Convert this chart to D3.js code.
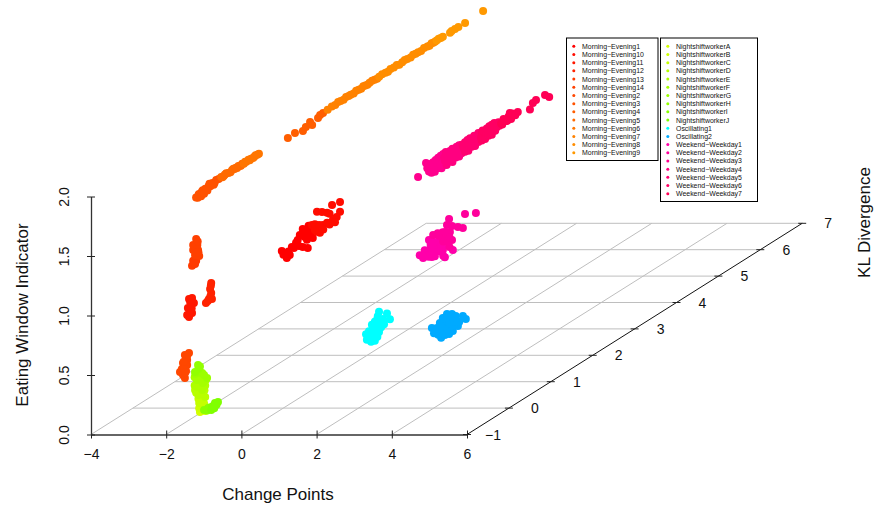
<!DOCTYPE html>
<html>
<head>
<meta charset="utf-8">
<script src="https://cdn.jsdelivr.net/npm/d3@7"></script>
<style>
body { margin: 0; background: #fff; }
svg { display: block; }
text { font-family: "Liberation Sans", Arial, sans-serif; fill: #111; }
</style>
</head>
<body>
<svg id="chart" width="874" height="508"></svg>
<script>
// every point is [change points, kl divergence, eating window indicator]
const me1 = [[-1.5,1.31,1.029],[-1.5,1.43,.944],[-1.5,1.5,.954],[-1.5,1.55,1.01],[-1.5,1.81,.952],[-1.5,1.93,.918],[-1.5,1.69,1.037],[-1.5,1.91,.99],[-1.5,2.05,.975],[-1.5,1.81,1.103],[-1.5,1.65,1.023],[-1.5,1.74,1.069],[-1.5,1.98,1.041],[-1.5,1.6,.99],[-1.5,1.72,.98],[-1.5,1.85,1.03],[-1.5,1.9,1.06],[-1.5,2,1.01],[-1.5,1.95,1.1],[-1.5,1.35,.99],[-1.5,1.47,.99]];
const me10 = [[-1.5,2.03,1.089],[-1.5,2.22,.98],[-1.5,2.29,1.031],[-1.5,2.53,1.02],[-1.5,2.39,1.027],[-1.5,2.7,1.05],[-1.5,2.62,1.024],[-1.5,2.51,1.15],[-1.5,2.7,1.133],[-1.5,2.15,1.172],[-1.5,2.27,1.145],[-1.5,2.39,1.111],[-1.5,2.15,1.004],[-1.5,2.1,1.03],[-1.5,2.1,1.08],[-1.5,2.2,1.05],[-1.5,2.3,.99],[-1.5,2.45,1],[-1.5,2.58,.99],[-1.5,2.45,1.09]];
const me11 = [[-1.87,-.5,1.036],[-1.95,-.5,1.028],[-1.92,-.5,1.003],[-1.82,-.5,.994],[-1.98,-.5,.952],[-1.9,-.5,.969],[-1.9,-.5,.927],[-2,-.5,.893],[-1.95,-.5,.877],[-1.87,-.5,.91],[-1.9,-.5,.99],[-1.93,-.5,.93],[-1.88,-.5,.95],[-1.93,-.5,.9],[-1.88,-.5,1.02]];
const me12 = [[-1.36,-.5,1.162],[-1.39,-.5,1.112],[-1.36,-.5,1.078],[-1.34,-.5,1.028],[-1.42,-.5,1.028],[-1.5,-.5,.994],[-1.37,-.5,1.14],[-1.38,-.5,1.05],[-1.45,-.5,1.01]];
const me13 = [[-1.84,-.5,1.349],[-1.76,-.5,1.349],[-1.87,-.5,1.307],[-1.79,-.5,1.321],[-1.78,-.5,1.36],[-1.8,-.5,1.33]];
const me14 = [[-1.76,-.5,1.532],[-1.73,-.5,1.482],[-1.84,-.5,1.44],[-1.71,-.5,1.44],[-1.84,-.5,1.482],[-1.79,-.5,1.398],[-1.68,-.5,1.389],[-1.78,-.5,1.46],[-1.75,-.5,1.42],[-1.72,-.5,1.51],[-1.7,-.5,1.42]];
const me2 = [[-1.95,-.5,.574],[-2.06,-.5,.557],[-2,-.5,.515],[-2.11,-.5,.49],[-2,-.5,.473],[-2.14,-.5,.44],[-2.19,-.5,.415],[-2.03,-.5,.423],[-2.11,-.5,.389],[-2.06,-.5,.364],[-2.03,-.5,.54],[-2.05,-.5,.47],[-2.08,-.5,.44],[-2.05,-.5,.41],[-2,-.5,.55],[-2.09,-.5,.5]];
const me3 = [[-1.74,-.52,1.885],[-1.74,-.48,1.875],[-1.74,-.45,1.9],[-1.74,-.42,1.885],[-1.74,-.38,1.905],[-1.74,-.35,1.89],[-1.74,-.3,1.91],[-1.74,-.27,1.9],[-1.74,-.22,1.915],[-1.74,-.18,1.905],[-1.74,-.13,1.92],[-1.74,-.08,1.91],[-1.74,-.04,1.925],[-1.74,.02,1.92],[-1.74,-.46,1.895],[-1.74,-.4,1.87],[-1.74,-.36,1.91],[-1.74,-.33,1.875],[-1.74,-.25,1.885],[-1.74,-.2,1.93],[-1.74,-.1,1.9]];
const me4 = [[-1.74,1.67,1.9],[-1.74,1.84,1.904],[-1.74,2.03,1.878],[-1.74,2.1,1.897],[-1.74,2.2,1.916],[-1.74,2.25,1.88],[-1.74,2.39,1.908],[-1.74,2.44,1.922],[-1.74,2.51,1.923]];
const me5 = [[-1.74,.08,1.925],[-1.74,.14,1.92],[-1.74,.2,1.93],[-1.74,.3,1.915],[-1.74,.34,1.925],[-1.74,.4,1.92],[-1.74,.46,1.915],[-1.74,.52,1.92],[-1.74,.58,1.925],[-1.74,.11,1.915],[-1.74,.17,1.925],[-1.74,.25,1.92],[-1.74,.37,1.93],[-1.74,.43,1.925],[-1.74,.49,1.925],[-1.74,.55,1.915]];
const me6 = [[-1.74,.62,1.915],[-1.74,.68,1.92],[-1.74,.73,1.925],[-1.74,.79,1.92],[-1.74,.84,1.915],[-1.74,.9,1.925],[-1.74,.98,1.92],[-1.74,.65,1.925],[-1.74,.76,1.915],[-1.74,.87,1.92],[-1.74,.94,1.92]];
const me7 = [[-1.74,2.62,1.925],[-1.74,2.72,1.93],[-1.74,2.8,1.925],[-1.74,2.87,1.935],[-1.74,2.93,1.93],[-1.74,3,1.925],[-1.74,3.06,1.935],[-1.74,3.12,1.93],[-1.74,3.17,1.93],[-1.74,3.24,1.925],[-1.74,3.3,1.935],[-1.74,3.36,1.93],[-1.74,3.42,1.925],[-1.74,3.47,1.935],[-1.74,3.52,1.93],[-1.74,3.57,1.925],[-1.74,3.62,1.93],[-1.74,3.68,1.935],[-1.74,3.74,1.93],[-1.74,3.8,1.925]];
const me8 = [[-1.74,3.85,1.93],[-1.74,3.92,1.935],[-1.74,4,1.93],[-1.74,4.06,1.925],[-1.74,4.12,1.935],[-1.74,4.2,1.93],[-1.74,4.27,1.935],[-1.74,4.33,1.925],[-1.74,4.4,1.93],[-1.74,4.46,1.935],[-1.74,4.52,1.93],[-1.74,4.6,1.925],[-1.74,4.66,1.935],[-1.74,4.72,1.93],[-1.74,4.78,1.93],[-1.74,4.85,1.925],[-1.74,4.92,1.935],[-1.74,5,1.93],[-1.74,5.05,1.925],[-1.74,5.1,1.935],[-1.74,5.14,1.93],[-1.74,5.18,1.93]];
const me9 = [[-1.74,5.22,1.93],[-1.74,5.27,1.935],[-1.74,5.32,1.93],[-1.74,5.37,1.93],[-1.74,5.54,1.925],[-1.74,5.58,1.93],[-1.74,5.66,1.93],[-1.74,5.74,1.93],[-1.74,5.9,1.928],[-1.74,6.33,1.933]];
const nsA = [[-1.66,-.5,.078],[-1.52,-.5,.087],[-1.6,-.5,.09]];
const nsB = [[-1.6,-.5,.12],[-1.58,-.5,.146],[-1.64,-.5,.13],[-1.54,-.5,.12],[-1.68,-.5,.11]];
const nsC = [[-1.68,-.5,.154],[-1.66,-.5,.196],[-1.62,-.5,.18],[-1.6,-.5,.16],[-1.55,-.5,.15],[-1.7,-.5,.19]];
const nsD = [[-1.52,-.5,.204],[-1.79,-.5,.263],[-1.65,-.5,.24],[-1.7,-.5,.22],[-1.58,-.5,.23],[-1.76,-.5,.24],[-1.54,-.5,.26]];
const nsE = [[-1.6,-.5,.263],[-1.71,-.5,.297],[-1.66,-.5,.31],[-1.74,-.5,.29],[-1.55,-.5,.33],[-1.8,-.5,.3],[-1.52,-.5,.3]];
const nsF = [[-1.58,-.5,.322],[-1.74,-.5,.347],[-1.6,-.5,.36],[-1.7,-.5,.36],[-1.8,-.5,.37],[-1.5,-.5,.35]];
const nsG = [[-1.47,-.5,.364],[-1.6,-.5,.406],[-1.65,-.5,.41],[-1.55,-.5,.39],[-1.78,-.5,.4]];
const nsH = [[-1.79,-.5,.415],[-1.71,-.5,.473],[-1.7,-.5,.44],[-1.66,-.5,.46]];
const nsI = [[-1.55,-.5,.095],[-1.44,-.5,.112],[-1.4,-.5,.115],[-1.47,-.5,.09]];
const nsJ = [[-1.34,-.5,.12],[-1.26,-.5,.154],[-1.18,-.5,.162],[-1.22,-.5,.14],[-1.3,-.5,.13],[-1.36,-.5,.095],[-1.28,-.5,.11]];
const osc1 = [[2,.18,.58],[2,.2,.53],[2,.3,.49],[2,.39,.48],[2,.32,.53],[2,.25,.59],[2,.42,.53],[2,.34,.58],[2,.49,.53],[2,.32,.63],[2,.44,.58],[2,.54,.56],[2,.39,.64],[2,.51,.61],[2,.61,.57],[2,.46,.67],[2,.58,.62],[2,.49,.7],[2,.75,.58],[2,.68,.645],[2,.39,.56],[2,.28,.55],[2,.36,.52],[2,.45,.5],[2,.43,.6],[2,.5,.57],[2,.42,.64],[2,.55,.6],[2,.6,.6],[2,.35,.6],[2,.3,.56]];
const osc2 = [[3.25,.63,.533],[3.25,.68,.479],[3.25,.78,.443],[3.25,.85,.402],[3.25,.94,.406],[3.25,1.04,.392],[3.25,1.13,.397],[3.25,1.25,.413],[3.25,1.28,.44],[3.25,.75,.507],[3.25,.87,.463],[3.25,.82,.533],[3.25,.94,.479],[3.25,1.06,.438],[3.25,1.16,.442],[3.25,.89,.559],[3.25,1.01,.508],[3.25,1.11,.495],[3.25,1.2,.473],[3.25,.99,.571],[3.25,1.11,.545],[3.25,1.2,.507],[3.25,1.37,.47],[3.25,1.44,.429],[3.25,.78,.49],[3.25,.9,.43],[3.25,1,.44],[3.25,1.1,.45],[3.25,.95,.52],[3.25,.85,.5],[3.25,1.05,.48],[3.25,1.15,.47],[3.25,.95,.55],[3.25,1.05,.54],[3.25,1.25,.45],[3.25,.72,.48]];
const we1 = [[3.25,.42,1.169],[3.25,.34,1.21],[3.25,.63,1.129],[3.25,.94,1.06],[3.25,1.13,1.077],[3.25,.46,1.225],[3.25,.58,1.199],[3.25,.75,1.187],[3.25,.89,1.13],[3.25,1.01,1.145],[3.25,.56,1.288],[3.25,.7,1.24],[3.25,.82,1.23],[3.25,.51,1.173],[3.25,.6,1.24],[3.25,.7,1.18],[3.25,.8,1.14],[3.25,.85,1.19],[3.25,.65,1.25],[3.25,.9,1.08],[3.25,.7,1.12],[3.25,.45,1.2],[3.25,.55,1.15]];
const we2 = [[3.25,.99,1.201],[3.25,1.11,1.166],[3.25,.77,1.299],[3.25,.89,1.281],[3.25,1.06,1.244],[3.25,.99,1.319],[3.25,1.25,1.244],[3.25,1.37,1.209],[3.25,1.04,1.359],[3.25,1.42,1.316],[3.25,1.68,1.266],[3.25,1.11,1.284],[3.25,.66,1.309],[3.25,.94,1.228],[3.25,.9,1.2],[3.25,1,1.18],[3.25,.8,1.27],[3.25,.95,1.27],[3.25,1.05,1.2],[3.25,1.05,1.12]];
const we3 = [[3.25,.3,1.876],[3.25,.49,1.95],[3.25,.52,1.9],[3.25,.56,1.865],[3.25,.62,1.88],[3.25,.66,1.92],[3.25,.7,1.86],[3.25,.74,1.895],[3.25,.78,1.93],[3.25,.82,1.875],[3.25,.86,1.905],[3.25,.9,1.935],[3.25,.55,1.93],[3.25,.6,1.91],[3.25,.68,1.89],[3.25,.72,1.925],[3.25,.76,1.87],[3.25,.8,1.91],[3.25,.84,1.935],[3.25,.88,1.865],[3.25,.62,1.84],[3.25,.7,1.83],[3.25,.78,1.845],[3.25,.86,1.825],[3.25,.92,1.84]];
const we4 = [[3.25,.94,1.87],[3.25,.98,1.91],[3.25,1.02,1.89],[3.25,1.06,1.925],[3.25,1.1,1.87],[3.25,1.14,1.905],[3.25,1.18,1.88],[3.25,1.22,1.925],[3.25,1.26,1.895],[3.25,1.3,1.87],[3.25,1.34,1.915],[3.25,.92,1.9],[3.25,.96,1.94],[3.25,1,1.865],[3.25,1.04,1.9],[3.25,1.08,1.89],[3.25,1.12,1.93],[3.25,1.16,1.865],[3.25,1.2,1.9],[3.25,1.24,1.87],[3.25,1.28,1.925],[3.25,1.32,1.89],[3.25,.98,1.825],[3.25,1.05,1.84],[3.25,1.12,1.82],[3.25,1.2,1.84],[3.25,1.28,1.83],[3.25,1.34,1.845]];
const we5 = [[3.25,1.38,1.885],[3.25,1.42,1.92],[3.25,1.46,1.87],[3.25,1.5,1.9],[3.25,1.54,1.925],[3.25,1.58,1.88],[3.25,1.62,1.91],[3.25,1.66,1.87],[3.25,1.7,1.895],[3.25,1.74,1.925],[3.25,1.78,1.88],[3.25,1.36,1.91],[3.25,1.4,1.87],[3.25,1.44,1.9],[3.25,1.48,1.925],[3.25,1.52,1.875],[3.25,1.56,1.9],[3.25,1.6,1.87],[3.25,1.64,1.925],[3.25,1.68,1.9],[3.25,1.72,1.87],[3.25,1.76,1.91],[3.25,1.42,1.84],[3.25,1.5,1.83],[3.25,1.58,1.845],[3.25,1.66,1.835],[3.25,1.74,1.85]];
const we6 = [[3.25,1.82,1.905],[3.25,1.86,1.87],[3.25,1.9,1.895],[3.25,1.94,1.92],[3.25,1.98,1.875],[3.25,2.02,1.9],[3.25,2.06,1.925],[3.25,2.1,1.875],[3.25,2.14,1.905],[3.25,2.18,1.88],[3.25,2.22,1.91],[3.25,1.8,1.875],[3.25,1.84,1.925],[3.25,1.88,1.9],[3.25,1.92,1.87],[3.25,1.96,1.905],[3.25,2,1.925],[3.25,2.04,1.875],[3.25,2.08,1.9],[3.25,2.12,1.925],[3.25,2.16,1.875],[3.25,2.2,1.895],[3.25,2.24,1.875],[3.25,1.82,1.845],[3.25,1.9,1.84],[3.25,1.98,1.85],[3.25,2.06,1.84],[3.25,2.14,1.855]];
const we7 = [[3.25,2.28,1.885],[3.25,2.34,1.91],[3.25,2.4,1.88],[3.25,2.46,1.905],[3.25,2.49,1.927],[3.25,2.52,1.87],[3.25,2.58,1.895],[3.25,2.68,1.893],[3.25,2.97,1.85],[3.25,3.04,1.889],[3.25,3.115,1.897],[3.25,3.33,1.892],[3.25,3.43,1.854],[3.25,2.31,1.87],[3.25,2.37,1.895],[3.25,2.43,1.875],[3.25,2.55,1.91],[3.25,2.62,1.88]];

const series_names = ['Morning−Evening1','Morning−Evening10','Morning−Evening11','Morning−Evening12','Morning−Evening13','Morning−Evening14','Morning−Evening2','Morning−Evening3','Morning−Evening4','Morning−Evening5','Morning−Evening6','Morning−Evening7','Morning−Evening8','Morning−Evening9',
	'NightshiftworkerA','NightshiftworkerB','NightshiftworkerC','NightshiftworkerD','NightshiftworkerE','NightshiftworkerF','NightshiftworkerG','NightshiftworkerH','NightshiftworkerI','NightshiftworkerJ',
	'Oscillating1','Oscillating2','Weekend−Weekday1','Weekend−Weekday2','Weekend−Weekday3','Weekend−Weekday4','Weekend−Weekday5','Weekend−Weekday6','Weekend−Weekday7'];
const series_colors = ['#FF0000','#FF0C00','#FF1800','#FF2300','#FF3B00','#FF4000','#FF4700','#FF5200','#FF5E00','#FF6A00','#FF7600','#FF8200','#FF8D00','#FF9900',
	'#D4FF00','#CCFF00','#C4FF00','#B8FF00','#AEFF00','#A5FF00','#9BFF00','#92FF00','#89FF00','#80FF00',
	'#00FFFF','#00AAFF','#FF00AA','#FF009C','#FF008E','#FF0080','#FF0071','#FF0063','#FF0055'];
const series_points = [me1,me10,me11,me12,me13,me14,me2,me3,me4,me5,me6,me7,me8,me9,nsA,nsB,nsC,nsD,nsE,nsF,nsG,nsH,nsI,nsJ,osc1,osc2,we1,we2,we3,we4,we5,we6,we7];

const x_ticks = [-4,-2,0,2,4,6];
const y_ticks = [-1,0,1,2,3,4,5,6,7];
const z_ticks = [0,.5,1,1.5,2];

// chart box, scatterplot3d style oblique projection
const LEFT = 91, BOTTOM = 434.5;
const x_scale = d3.scaleLinear().domain([-4,6]).range([LEFT,LEFT+376]);
const z_scale = d3.scaleLinear().domain([0,2]).range([BOTTOM,BOTTOM-238]);
const y_shift_x = d3.scaleLinear().domain([-1,7]).range([0,335.2]);
const y_shift_y = d3.scaleLinear().domain([-1,7]).range([0,-211.2]);

const px = function(d) { return x_scale(d[0]) + y_shift_x(d[1]); };
const py = function(d) { return z_scale(d[2]) + y_shift_y(d[1]); };
const minus = function(v) { return String(v).replace('-','−'); };

const svg = d3.select('#chart');

// floor grid
const grid = svg.append('g').attr('stroke','#bebebe').attr('stroke-width',1).attr('fill','none');
grid.selectAll('.grid-x').data(x_ticks.slice(0,-1)).enter().append('line')
	.attr('x1',function(d) { return px([d,-1,0]); })
	.attr('y1',function(d) { return py([d,-1,0]); })
	.attr('x2',function(d) { return px([d,7,0]); })
	.attr('y2',function(d) { return py([d,7,0]); });
grid.selectAll('.grid-y').data(y_ticks.slice(1)).enter().append('line')
	.attr('x1',function(d) { return px([-4,d,0]); })
	.attr('y1',function(d) { return py([-4,d,0]); })
	.attr('x2',function(d) { return px([6,d,0]); })
	.attr('y2',function(d) { return py([6,d,0]); });

// bottom and left axes
const x_axis = svg.append('g').attr('transform','translate(0,'+BOTTOM+')')
	.call(d3.axisBottom(x_scale).tickValues(x_ticks).tickSize(4).tickSizeOuter(0).tickFormat(minus));
const z_axis = svg.append('g').attr('transform','translate('+LEFT+',0)')
	.call(d3.axisLeft(z_scale).tickValues(z_ticks).tickSize(4).tickSizeOuter(0).tickFormat(d3.format('.1f')));
x_axis.selectAll('.tick line').attr('y1',-4).attr('stroke','#222');
z_axis.selectAll('.tick line').attr('x1',4).attr('stroke','#222');
x_axis.select('.domain').attr('stroke','#333').attr('stroke-width',1.3);
z_axis.select('.domain').attr('stroke','#333').attr('stroke-width',1.3);
x_axis.selectAll('.tick text').attr('y',14.6).attr('font-size',14).attr('font-family','"Liberation Sans"').attr('fill','#111');
z_axis.selectAll('.tick text')
	.attr('x',null).attr('dy',null).attr('text-anchor','middle')
	.attr('font-size',14).attr('font-family','"Liberation Sans"').attr('fill','#111')
	.attr('transform','translate(-22,0) rotate(-90)')
	.text(d3.format('.1f'));

// oblique axis
const y_axis = svg.append('g');
y_axis.append('line')
	.attr('x1',px([6,-1,0])).attr('y1',py([6,-1,0]))
	.attr('x2',px([6,7,0])).attr('y2',py([6,7,0]))
	.attr('stroke','#111');
y_axis.selectAll('.y-tick').data(y_ticks).enter().append('line')
	.attr('x1',function(d) { return px([6,d,0]) - 4; })
	.attr('x2',function(d) { return px([6,d,0]) + 4; })
	.attr('y1',function(d) { return py([6,d,0]); })
	.attr('y2',function(d) { return py([6,d,0]); })
	.attr('stroke','#222');
y_axis.selectAll('.y-label').data(y_ticks).enter().append('text')
	.text(minus)
	.attr('x',function(d) { return px([6,d,0]) + 26; })
	.attr('y',function(d) { return py([6,d,0]) + 5; })
	.attr('text-anchor','middle')
	.attr('font-size',14);

// points
series_points.forEach(function(points,i) {
	svg.append('g').selectAll('circle').data(points).enter().append('circle')
		.attr('cx',px)
		.attr('cy',py)
		.attr('r',4)
		.attr('fill',series_colors[i]);
});

// axis titles
svg.append('text').text('Change Points').attr('x',278).attr('y',500).attr('text-anchor','middle').attr('font-size',17);
svg.append('text').text('Eating Window Indicator').attr('text-anchor','middle').attr('font-size',17)
	.attr('transform','translate(28,315) rotate(-90)');
svg.append('text').text('KL Divergence').attr('text-anchor','middle').attr('font-size',17)
	.attr('transform','translate(870,222.5) rotate(-90)');

// legends
const draw_legend = function(names,colors,box_x,box_width,box_height) {
	const legend = svg.append('g').attr('transform','translate('+box_x+',38)');
	legend.append('rect').attr('width',box_width).attr('height',box_height).attr('fill','#fff').attr('stroke','#000');
	const rows = legend.selectAll('.row').data(names).enter().append('g')
		.attr('transform',function(d,i) { return 'translate(0,'+(8.3 + i * 8.19)+')'; });
	rows.append('circle').attr('cx',7.3).attr('r',1.5).attr('fill',function(d,i) { return colors[i]; });
	rows.append('text').text(function(d) { return d; }).attr('x',15.5).attr('y',2.5).attr('font-size',6.95);
};
draw_legend(series_names.slice(0,14),series_colors.slice(0,14),566.5,91.5,122.5);
draw_legend(series_names.slice(14),series_colors.slice(14),660.5,97,163.5);
</script>
</body>
</html>
